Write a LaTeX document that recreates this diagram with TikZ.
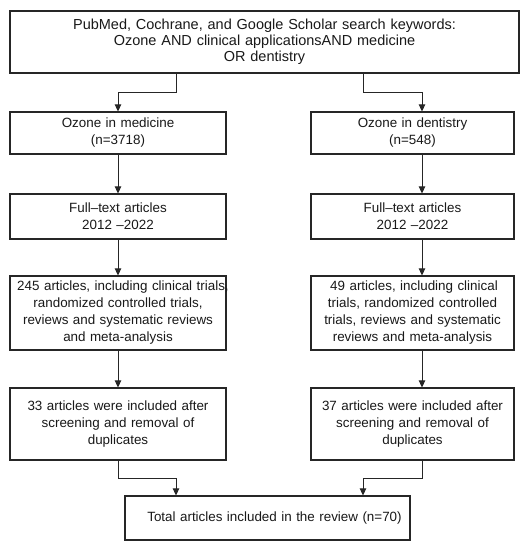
\documentclass[tikz,border=0pt]{standalone}
\usepackage{fontspec}
\setmainfont{Liberation Sans}
\usetikzlibrary{arrows.meta}
\begin{document}
\begin{tikzpicture}[x=1pt,y=-1pt,
  box/.style={draw=black!85,line width=1.2pt,align=center,inner ysep=0pt,inner xsep=2pt,
    font=\fontsize{13.4}{17}\selectfont,text=black!90},
  arr/.style={draw=black!85,line width=0.9pt,-{Triangle[length=7pt,width=6.5pt]}}]
\useasboundingbox[fill=white] (0,0) rectangle (529,550);
\coordinate (L) at (118,0);
\coordinate (R) at (422,0);
\coordinate (TL) at (176,0);
\coordinate (TR) at (363,0);
\node[box,text width=505pt,minimum height=62pt,font=\fontsize{14.5}{16}\selectfont] (top) at (264.5,42)
  {PubMed, Cochrane, and Google Scholar search keywords:\\ Ozone AND clinical applicationsAND medicine\\ OR dentistry};
\node[box,text width=212pt,minimum height=42pt] (med) at (118,133) {Ozone in medicine\\(n=3718)};
\node[box,text width=199pt,minimum height=42pt] (dent) at (412.5,133) {Ozone in dentistry\\(n=548)};
\node[box,text width=212pt,minimum height=45pt] (ftm) at (118,216.5) {Full–text articles\\2012 –2022};
\node[box,text width=199pt,minimum height=45pt] (ftd) at (412.5,216.5) {Full–text articles\\2012 –2022};
\node[box,text width=212pt,minimum height=74pt] (a245) at (118,313)
  {\makebox[\linewidth]{\hspace*{10pt}245 articles, including clinical trials,}\\randomized controlled trials,\\reviews and systematic reviews\\and meta-analysis};
\node[box,text width=199pt,minimum height=74pt] (a49) at (412.5,313)
  {\hspace*{3pt}49 articles, including clinical\\trials, randomized controlled\\trials, reviews and systematic\\reviews and meta-analysis};
\node[box,text width=212pt,minimum height=72pt] (a33) at (118,424)
  {33 articles were included after\\screening and removal of\\duplicates};
\node[box,text width=199pt,minimum height=72pt] (a37) at (412.5,424)
  {37 articles were included after\\screening and removal of\\duplicates};
\node[box,text width=281pt,minimum height=44pt] (total) at (267.5,518)
  {\hspace*{14pt}Total articles included in the review (n=70)};
\draw[arr] (top.south -| TL) -- ++(0,19) -| (med.north -| L);
\draw[arr] (top.south -| TR) -- ++(0,19) -| (dent.north -| R);
\draw[arr] (med.south -| L) -- (ftm.north -| L);
\draw[arr] (dent.south -| R) -- (ftd.north -| R);
\draw[arr] (ftm.south -| L) -- (a245.north -| L);
\draw[arr] (ftd.south -| R) -- (a49.north -| R);
\draw[arr] (a245.south -| L) -- (a33.north -| L);
\draw[arr] (a49.south -| R) -- (a37.north -| R);
\draw[arr] (a33.south -| L) -- ++(0,18) -| (total.north -| TL);
\draw[arr] (a37.south -| R) -- ++(0,18) -| (total.north -| TR);
\end{tikzpicture}
\end{document}
